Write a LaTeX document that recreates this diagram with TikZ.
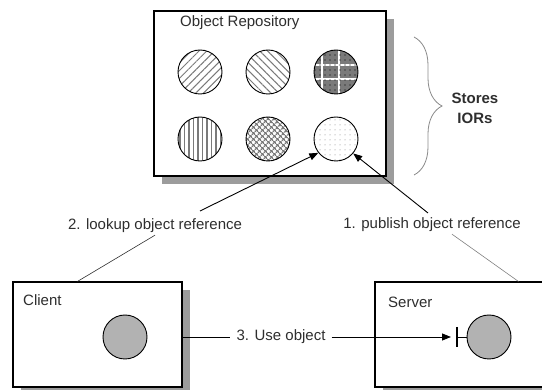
\documentclass[tikz,border=0pt]{standalone}
\usepackage{fontspec}
\setmainfont{Liberation Sans}
\usetikzlibrary{positioning,arrows.meta,shadows,patterns.meta,
                decorations.pathreplacing,calc}
\definecolor{tinta}{HTML}{2E2E2E}
\definecolor{sombra}{HTML}{9C9C9C}
\definecolor{relleno}{HTML}{B2B2B2}
\definecolor{trama}{HTML}{7A7A7A}
\definecolor{llave}{HTML}{8A8A8A}

\begin{document}
\begin{tikzpicture}[x=1pt, y=-1pt, font=\fontsize{15}{18}\selectfont,
      caja/.style={draw, line width=1.1pt, fill=white, inner sep=0pt,
                   drop shadow={shadow xshift=8pt, shadow yshift=-8pt,
                                fill=sombra, opacity=1}},
      obj/.style={draw, circle, line width=0.9pt, minimum size=44pt, inner sep=0pt},
      lbl/.style={text=tinta, inner sep=2pt},
      f/.style={-{Triangle[length=9pt,width=7pt]}, line width=0.9pt},
      g/.style={line width=0.6pt, draw=tinta}]

    \clip (0,0) rectangle (542,390);

    % --- Object Repository ------------------------------------------------
    \node[caja, minimum width=232pt, minimum height=165pt] (repo) at (270,93.5) {};
    \node[lbl, anchor=west] (trepo) at (178,23) {Object Repository};

    \node[obj, pattern={Lines[angle=45,distance=5.5pt,line width=1pt]},
          pattern color=trama] (o1) at (200,72) {};
    \node[obj, pattern={Lines[angle=-45,distance=5.5pt,line width=1pt]},
          pattern color=trama] (o2) at (268,72) {};
    \node[obj, fill=trama, path picture={
            \foreach \d in {-14,3}
              \draw[white, line width=1.3pt] ([xshift=\d pt]o3.north) -- ([xshift=\d pt]o3.south);
            \foreach \d in {-7,7}
              \draw[white, line width=1.3pt] ([yshift=\d pt]o3.west) -- ([yshift=\d pt]o3.east);
            \fill[pattern={Dots[distance=5pt,radius=0.6pt]}, pattern color=black]
              (o3.center) circle (22pt);}] (o3) at (336,72) {};
    \node[obj, pattern={Lines[angle=90,distance=4.5pt,line width=1.4pt]},
          pattern color=trama] (o4) at (200,139) {};
    \node[obj, pattern={Hatch[angle=45,distance=4pt,line width=1.3pt]},
          pattern color=trama] (o5) at (268,139) {};
    \node[obj, pattern={Dots[distance=5pt,radius=0.5pt]},
          pattern color=trama] (o6) at (336,139) {};

    % --- la llave de la derecha -------------------------------------------
    \coordinate (bt) at (414,37);
    \coordinate (bb) at (414,175);
    \draw[decorate, decoration={brace, amplitude=28pt}, draw=llave, line width=0.8pt]
      (bt) -- (bb);
    \node[font=\bfseries\fontsize{15}{20}\selectfont, align=center, text=tinta]
      (stores) at (475,108) {Stores\\IORs};

    % --- Client y Server ----------------------------------------------------
    \node[caja, minimum width=169pt, minimum height=105pt] (client) at (97.5,334.5) {};
    \node[lbl, anchor=west] (tcli) at (21,300) {Client};
    \node[obj, fill=relleno] (cobj) at (125,337) {};

    \node[caja, minimum width=200pt, minimum height=105pt] (server) at (475,334.5) {};
    \node[lbl, anchor=west] (tsrv) at (386,302) {Server};
    \node[obj, fill=relleno] (sobj) at (489,337) {};

    % --- etiquetas y conectores -------------------------------------------
    \node[lbl] (lookup) at (155,226) {2. lookup object reference};
    \node[lbl] (publish) at (432,225) {1. publish object reference};
    \node[lbl, inner sep=6pt] (use) at (281,337) {3. Use object};

    \coordinate (lk) at (200,211);
    \coordinate (pb) at (428,213);
    \coordinate (bar) at (457,337);

    \draw[f] (lk) -- (o6.218);
    \draw[f] (pb) -- (o6.320);
    \draw[g] (lookup.south) -- ([xshift=65pt]client.north west);
    \draw[g, draw=gray] ([xshift=20pt]publish.south) -- ([xshift=144pt]server.north west);

    \draw[line width=0.9pt] (client.east |- use.west) -- (use.west);
    \draw[f] (use.east) -- ([xshift=-6pt]bar);
    \draw[line width=1.1pt] ([yshift=10pt]bar) -- ([yshift=-10pt]bar);
    \draw[line width=0.9pt] (bar) -- (sobj.west);
\end{tikzpicture}
\end{document}
